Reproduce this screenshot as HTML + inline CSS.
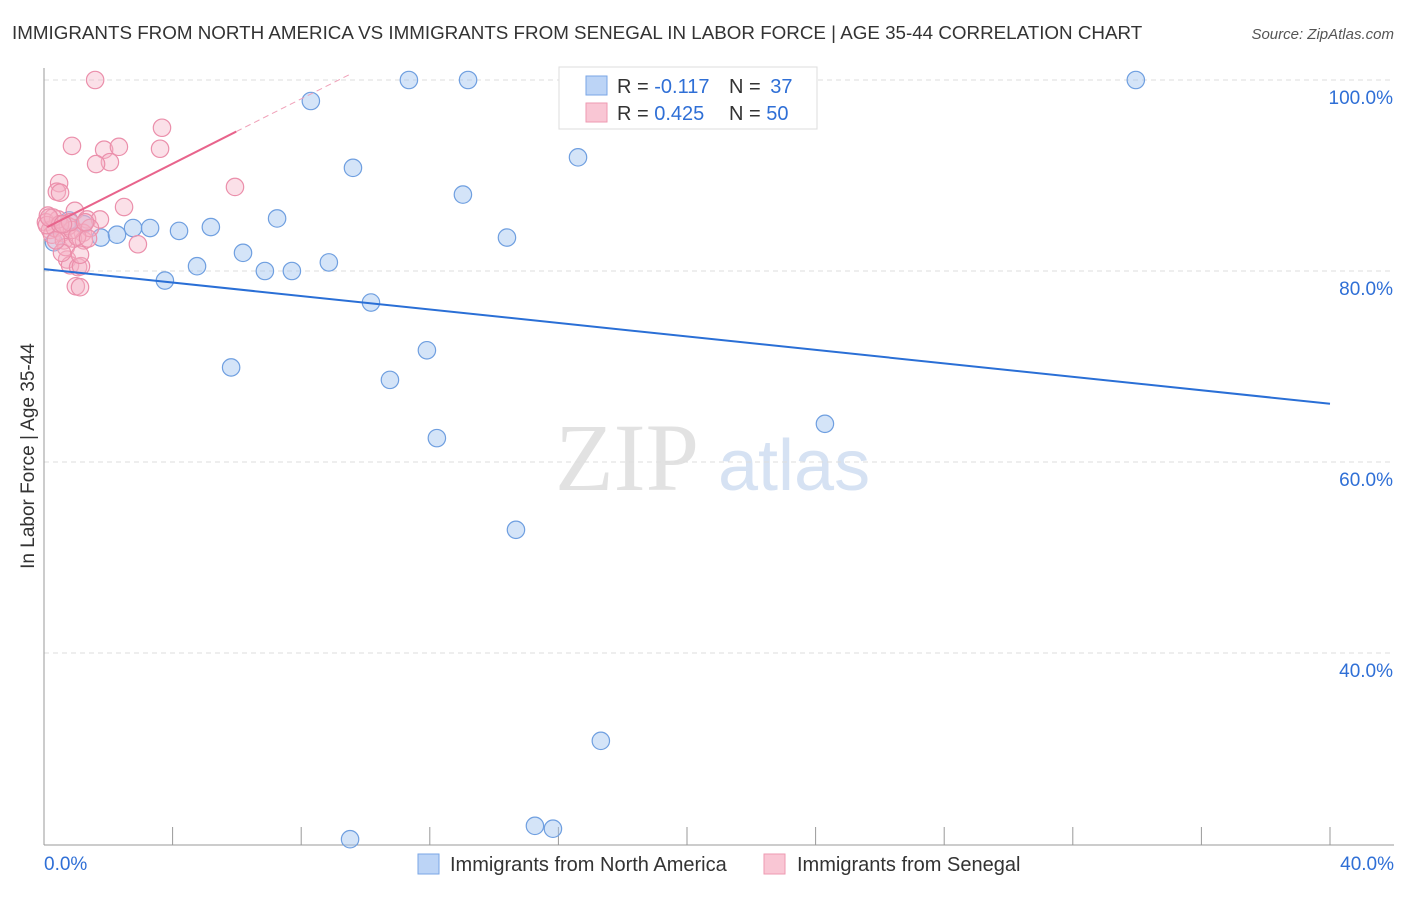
<!DOCTYPE html>
<html><head><meta charset="utf-8"><style>
body{margin:0;background:#fff;font-family:"Liberation Sans",sans-serif}
</style></head><body>
<svg id="c" width="1406" height="892" xmlns="http://www.w3.org/2000/svg">
<text x="12" y="39" font-size="18.8" fill="#333">IMMIGRANTS FROM NORTH AMERICA VS IMMIGRANTS FROM SENEGAL IN LABOR FORCE | AGE 35-44 CORRELATION CHART</text>
<text x="1394" y="39" font-size="15" fill="#555" font-style="italic" text-anchor="end">Source: ZipAtlas.com</text>
<text x="555" y="490" font-size="96" fill="#e2e2e2" font-family="Liberation Serif">ZIP</text>
<text x="718" y="490" font-size="72" fill="#d6e2f3">atlas</text>
<text transform="translate(34,456) rotate(-90)" font-size="19" fill="#333" text-anchor="middle">In Labor Force | Age 35-44</text>
<g id="grid"></g><g id="marks"></g>
<g>
<rect x="559" y="67" width="258" height="62" fill="#fff" stroke="#ddd"/>
<rect x="586" y="76" width="21" height="19" fill="#bcd4f6" stroke="#7aa6e6"/>
<rect x="586" y="103" width="21" height="19" fill="#f9c6d4" stroke="#ee9ab2"/>
<text x="617" y="93" font-size="20" fill="#333">R = <tspan fill="#2f6fd6">-0.117</tspan></text>
<text x="729" y="93" font-size="20" fill="#333">N = <tspan fill="#2f6fd6" dx="4">37</tspan></text>
<text x="617" y="120" font-size="20" fill="#333">R = <tspan fill="#2f6fd6">0.425</tspan></text>
<text x="729" y="120" font-size="20" fill="#333">N = <tspan fill="#2f6fd6">50</tspan></text>
</g>
<g>
<rect x="418" y="854" width="21" height="20" fill="#bcd4f6" stroke="#7aa6e6"/>
<text x="450" y="871" font-size="20" fill="#333">Immigrants from North America</text>
<rect x="764" y="854" width="21" height="20" fill="#f9c6d4" stroke="#ee9ab2"/>
<text x="797" y="871" font-size="20" fill="#333">Immigrants from Senegal</text>
</g>
</svg>
<script>
const yTicks=[100,80,60,40];
const xTickLabels=["0.0%","40.0%"];
const blueX=[0.31,0.78,1.24,1.77,2.27,2.77,3.30,3.76,4.20,4.76,5.19,5.82,6.19,6.87,7.25,7.71,8.30,8.86,9.52,9.61,10.17,10.76,11.35,11.91,12.22,13.03,13.19,14.40,14.68,15.27,15.83,16.61,17.32,20.81,24.29,33.96,17.73];
const blueY=[83.0,85.3,84.9,83.5,83.8,84.5,84.5,79.0,84.2,80.5,84.6,69.9,81.9,80.0,85.5,80.0,97.8,80.9,20.5,90.8,76.7,68.6,100,71.7,62.5,88.0,100,83.5,52.9,21.9,21.6,91.9,30.8,100,64.0,100,96.6];
const pinkX=[1.59,0.87,1.87,2.05,1.62,2.33,3.67,3.61,5.94,0.47,0.40,0.50,2.49,0.96,1.34,1.74,1.21,0.90,1.24,2.92,0.72,0.81,1.06,1.15,0.99,1.12,0.12,0.06,0.19,0.25,0.34,0.56,0.62,0.75,0.87,0.44,1.43,0.68,1.12,0.56,0.09,0.28,0.50,1.03,1.37,0.81,0.37,0.16,0.59,1.28];
const pinkY=[100,93.1,92.7,91.4,91.2,93.0,95.0,92.8,88.8,89.2,88.3,88.2,86.7,86.3,85.4,85.4,84.0,83.4,83.2,82.8,81.2,80.6,80.4,80.5,78.4,78.3,85.8,85.1,84.3,83.8,84.5,84.0,83.2,84.7,84.3,85.4,84.5,82.5,81.7,81.9,84.8,85.6,84.9,83.6,83.4,85.1,83.2,85.6,84.9,85.1];
const blueTrend=[[0,80.2],[40,66.1]];
const pinkTrend=[[0.1,84.6],[5.98,94.6]];
const pinkTrendExt=[[5.98,94.6],[9.52,100.6]];
const X=v=>44+v*32.15, Y=v=>80+(100-v)*9.55;
const NS="http://www.w3.org/2000/svg";
function mk(tag,attrs,parent){const e=document.createElementNS(NS,tag);for(const k in attrs)e.setAttribute(k,attrs[k]);parent.appendChild(e);return e;}
const g=document.getElementById('grid'), m=document.getElementById('marks');
yTicks.forEach(t=>{
 const l=mk('line',{x1:44,x2:1394,y1:Y(t),y2:Y(t),stroke:'#ddd','stroke-dasharray':'5,4'},g);
 
 
 const tx=mk('text',{x:1393,y:Y(t)+24,'font-size':19,fill:'#2f6fd6','text-anchor':'end'},g);tx.textContent=t.toFixed(1)+'%';
 
 
});
let ax=mk('line',{x1:44,x2:44,y1:68,y2:845,stroke:'#999'},g);


ax=mk('line',{x1:44,x2:1394,y1:845,y2:845,stroke:'#999'},g);


for(let i=1;i<=10;i++){const t=mk('line',{x1:X(i*4),x2:X(i*4),y1:827,y2:845,stroke:'#999'},g);
 
 }
[[0,'start',44],[40,'end',1394]].forEach((p,i)=>{const t=mk('text',{x:p[2],y:870,'font-size':19,fill:'#2f6fd6','text-anchor':p[1]},g);t.textContent=xTickLabels[i];
 
 });
blueX.forEach((x,i)=>{const c=mk('circle',{cx:X(x),cy:Y(blueY[i]),r:8.7,fill:'rgba(160,196,240,0.45)',stroke:'#6f9fe0','stroke-width':1.2},m);
 
 });
pinkX.forEach((x,i)=>{const c=mk('circle',{cx:X(x),cy:Y(pinkY[i]),r:8.7,fill:'rgba(246,178,198,0.4)',stroke:'#eb8fab','stroke-width':1.2},m);
 
 });
let l=mk('line',{x1:X(blueTrend[0][0]),y1:Y(blueTrend[0][1]),x2:X(blueTrend[1][0]),y2:Y(blueTrend[1][1]),stroke:'#2a6fd6','stroke-width':2},m);


l=mk('line',{x1:X(pinkTrend[0][0]),y1:Y(pinkTrend[0][1]),x2:X(pinkTrend[1][0]),y2:Y(pinkTrend[1][1]),stroke:'#e8648c','stroke-width':2},m);


l=mk('line',{x1:X(pinkTrendExt[0][0]),y1:Y(pinkTrendExt[0][1]),x2:X(pinkTrendExt[1][0]),y2:Y(pinkTrendExt[1][1]),stroke:'#f0a0b8','stroke-width':1,'stroke-dasharray':'6,4'},m);


</script>
</body></html>
